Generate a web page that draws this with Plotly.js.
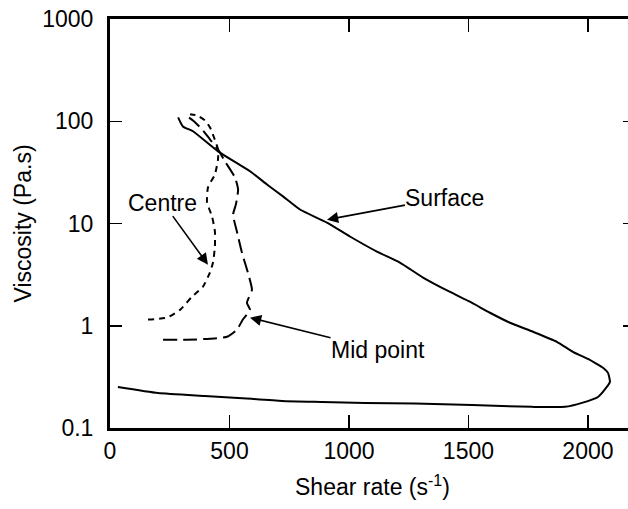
<!DOCTYPE html>
<html>
<head>
<meta charset="utf-8">
<script src="https://cdn.plot.ly/plotly-3.0.1.min.js"></script>
<style>
html,body{margin:0;padding:0;background:#fff;overflow:hidden;}
#chart{width:635px;height:509px;}
</style>
</head>
<body>
<div id="chart"></div>
<script>
// Surface (solid)
const surfaceX = [33, 201, 397, 536, 720, 887, 1067, 1276, 1515, 1766, 1904, 1975, 2042, 2079, 2092, 2084, 2063, 2029, 2008, 1937, 1870, 1770, 1674, 1590, 1506, 1423, 1310, 1213, 1117, 1004, 908, 795, 724, 657, 586, 452, 347, 305, 285];
const surfaceY = [0.252, 0.220, 0.206, 0.197, 0.184, 0.180, 0.176, 0.174, 0.168, 0.161, 0.161, 0.176, 0.201, 0.252, 0.282, 0.346, 0.388, 0.434, 0.464, 0.556, 0.697, 0.873, 1.07, 1.34, 1.72, 2.14, 2.96, 4.15, 5.31, 7.46, 10.2, 13.7, 18.4, 24.1, 32.4, 50.8, 79.8, 89, 109];
// Centre (short dash)
const centreX = [159, 238, 293, 343, 389, 418, 431, 439, 439, 427, 406, 410, 439, 452, 452, 435, 418, 397, 364, 335];
const centreY = [1.15, 1.20, 1.43, 1.92, 2.41, 3.31, 4.15, 5.95, 8.35, 11.7, 16.1, 22.5, 30.2, 42.4, 53.1, 69.7, 87.3, 102, 114, 117];
// Mid point (long dash)
const midX = [222, 322, 418, 490, 531, 556, 586, 573, 594, 577, 552, 531, 515, 527, 536, 523, 481, 452, 418, 385, 351, 318];
const midY = [0.73, 0.73, 0.746, 0.780, 0.914, 1.15, 1.43, 1.68, 2.25, 3.31, 5.2, 8.35, 12.2, 15.4, 21.5, 28.2, 40.5, 53.1, 66.6, 83.5, 100, 114];

// Labels with arrows (arrow tips in data units)
const labelTexts = ['Centre', 'Surface', 'Mid point'];
const arrowTipX = [410, 908, 586];
const arrowTipY = [3.96, 10.9, 1.20];

const xTickVals = [0, 500, 1000, 1500, 2000];
const yTickVals = [0.1, 1, 10, 100, 1000];
const yTickText = ['0.1', '1', '10', '100', '1000'];

const lineStyle = {color: '#000', width: 2};
const traces = [
  {x: surfaceX, y: surfaceY, mode: 'lines', line: Object.assign({}, lineStyle, {shape: 'spline', smoothing: 0.5}), name: 'Surface'},
  {x: centreX, y: centreY, mode: 'lines', line: Object.assign({}, lineStyle, {dash: '6px,5px', shape: 'spline', smoothing: 0.5}), name: 'Centre'},
  {x: midX, y: midY, mode: 'lines', line: Object.assign({}, lineStyle, {dash: '14px,6px', shape: 'spline', smoothing: 0.5}), name: 'Mid point'}
];

const font = {family: 'Liberation Sans, Arial, sans-serif', color: '#000'};
// text centre offsets from arrow tips (pixels)
const textOffsets = [[-45, -62], [118, -22], [128, 32]];
const annotations = [];
for (let i = 0; i < labelTexts.length; i++) {
  annotations.push({x: arrowTipX[i], y: Math.log10(arrowTipY[i]), xref: 'x', yref: 'y', text: labelTexts[i],
    showarrow: true, ax: textOffsets[i][0], ay: textOffsets[i][1], arrowhead: 2, arrowsize: 1.4, arrowwidth: 1.6,
    arrowcolor: '#000', standoff: 0, borderpad: 0, font: Object.assign({}, font, {size: 23})});
}

const layout = {
  width: 635, height: 509,
  margin: {l: 110, r: 0, t: 19, b: 81},
  paper_bgcolor: '#fff', plot_bgcolor: '#fff',
  showlegend: false,
  font: font,
  xaxis: {
    range: [0, 2197], tickvals: xTickVals, ticks: 'inside', ticklen: 13, tickwidth: 1.5, tickcolor: '#000',
    showline: true, linewidth: 3, linecolor: '#000', mirror: 'ticks', showgrid: false, zeroline: false,
    tickfont: Object.assign({}, font, {size: 23}),
    title: {text: 'Shear rate (s<sup>-1</sup>)', font: Object.assign({}, font, {size: 23}), standoff: 17}
  },
  yaxis: {
    type: 'log', range: [-1, 3], tickvals: yTickVals, ticktext: yTickText, ticks: 'inside', ticklen: 12, tickwidth: 1.5, tickcolor: '#000',
    showline: true, linewidth: 3, linecolor: '#000', mirror: 'ticks', showgrid: false, zeroline: false,
    tickfont: Object.assign({}, font, {size: 23}), ticklabelstandoff: 9,
    title: {text: 'Viscosity (Pa.s)', font: Object.assign({}, font, {size: 23}), standoff: 5}
  },
  annotations: annotations
};

Plotly.newPlot('chart', traces, layout, {displayModeBar: false, staticPlot: true});
</script>
</body>
</html>
